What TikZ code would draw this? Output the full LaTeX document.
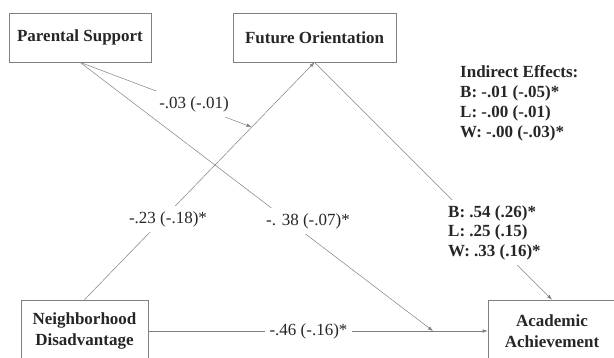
\documentclass[tikz,border=0pt]{standalone}
\usepackage{fontspec}
\setmainfont{Liberation Serif}
\usetikzlibrary{arrows.meta}
\definecolor{linegray}{gray}{0.5}
\definecolor{textgray}{gray}{0.15}
\newcommand{\figfont}{\fontsize{17}{20.5}\selectfont}
\tikzset{
  var/.style={draw=linegray,line width=0.6pt,inner sep=0pt,align=center,font=\figfont\bfseries,text=textgray},
  coef/.style={fill=white,inner xsep=5pt,inner ysep=5pt,text=textgray,font=\figfont},
  path/.style={draw=linegray,line width=0.5pt,-{Latex[length=5pt,width=3.5pt]}},
}
\begin{document}
\begin{tikzpicture}[x=1pt,y=-1pt]
        \useasboundingbox (0,0) rectangle (614,358);

        \node [var,minimum width=142pt,minimum height=49pt] (ps) at (80,37.5) {Parental Support};
        \node [var,minimum width=163pt,minimum height=49pt] (fo) at (314.5,37.5) {Future Orientation};
        \node [var,minimum width=127pt,minimum height=62pt] (nd) at (84.5,331) {Neighborhood\\Disadvantage};
        \node [var,minimum width=128pt,minimum height=62pt] (aa) at (552,331) {Academic\\Achievement};

        \coordinate (j03) at (251.5,127);
        \coordinate (j38) at (433,331);

        \draw [path] (nd.north) to (fo.south);
        \draw [path] (ps.south) to (j03);
        \draw [path] (ps.south) to (j38);
        \draw [path] (nd.east) to (aa.west);
        \draw [path] (fo.south) to (aa.north);

        \node [coef] (l03) at (194,104) {-.03 (-.01)};
        \node [coef] (l23) at (168,219) {-.23 (-.18)*};
        \node [coef] (l38) at (308,221) {-. 38 (-.07)*};
        \node [coef] (l46) at (308.5,331) {-.46 (-.16)*};
        \node [coef,anchor=west,align=left,font=\fontsize{17}{19.5}\selectfont\bfseries] (lfa) at (443,232.5) {B: .54 (.26)*\\L: .25 (.15)\\W: .33 (.16)*};
        \node [anchor=west,align=left,inner sep=0pt,text=textgray,font=\fontsize{17}{20}\selectfont\bfseries] (ind) at (460,103) {Indirect Effects:\\B: -.01 (-.05)*\\L: -.00 (-.01)\\W: -.00 (-.03)*};
\end{tikzpicture}
\end{document}
